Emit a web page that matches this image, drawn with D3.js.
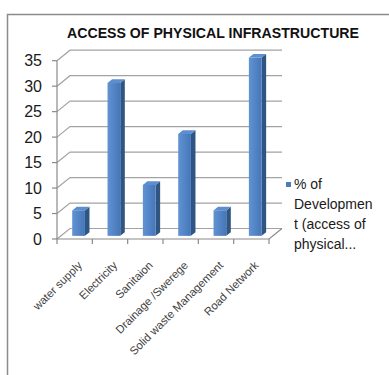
<!DOCTYPE html>
<html>
<head>
<meta charset="utf-8">
<script src="https://cdn.jsdelivr.net/npm/d3@7"></script>
<style>
  body { margin: 0; background: #fff; }
  svg { display: block; }
</style>
</head>
<body>
<script>
const categories = ['water supply', 'Electricity', 'Sanitaion', 'Drainage /Swerege', 'Solid waste Management', 'Road Network'];
const values = [5, 30, 10, 20, 5, 35];
const yTicks = [0, 5, 10, 15, 20, 25, 30, 35];
const legendLines = ['% of', 'Developmen', 't (access of', 'physical...'];

const width = 389, height = 375;
const depth = { dx: 13, dy: -10.5 }; // 3d floor offset
const f0 = 0.3, f1 = 0.65;           // bar front / back depth fraction

const svg = d3.select('body').append('svg')
    .attr('width', width)
    .attr('height', height);

// outer frame (runs off the right and bottom edge)
svg.append('rect')
    .attr('x', 7.5).attr('y', 14.5)
    .attr('width', 420).attr('height', 420)
    .attr('fill', 'none')
    .attr('stroke', '#8c8c8c')
    .attr('stroke-width', 1.5);

svg.append('text')
    .attr('x', 67).attr('y', 37.5)
    .attr('textLength', 292)
    .attr('lengthAdjust', 'spacingAndGlyphs')
    .style('font-family', 'Liberation Sans, Arial, sans-serif')
    .style('font-size', '15.5px')
    .style('font-weight', 'bold')
    .style('fill', '#111')
    .text('ACCESS OF PHYSICAL INFRASTRUCTURE');

const x = d3.scaleBand().domain(categories).range([57, 269]);
const y = d3.scaleLinear().domain([0, 35]).range([239, 60.7]);

// gridlines on side + back wall
const grid = svg.append('g').attr('fill', 'none').attr('stroke', '#a3a3a3').attr('stroke-width', 1.2);
yTicks.forEach(t => {
  const yy = y(t);
  grid.append('polyline')
      .attr('points', `57,${yy} ${57 + depth.dx},${yy + depth.dy} ${269 + depth.dx},${yy + depth.dy}`);
});

// floor front + right edge
const axisG = svg.append('g').attr('fill', 'none').attr('stroke', '#8a8a8a').attr('stroke-width', 1.2);
axisG.append('polyline')
    .attr('points', `57,${y(0)} 269,${y(0)} ${269 + depth.dx},${y(0) + depth.dy}`);
axisG.append('line')
    .attr('x1', 57).attr('x2', 57).attr('y1', y(0)).attr('y2', y(35));

// y ticks
yTicks.forEach(t => {
  axisG.append('line').attr('x1', 52).attr('x2', 57).attr('y1', y(t)).attr('y2', y(t));
});
// x ticks at band edges
const edges = categories.map(c => x(c)).concat([x.range()[1]]);
edges.forEach(e => {
  axisG.append('line').attr('x1', e).attr('x2', e).attr('y1', y(0)).attr('y2', y(0) + 5);
});

svg.append('g').selectAll('text')
    .data(yTicks)
    .enter().append('text')
    .attr('x', 42)
    .attr('y', d => y(d))
    .attr('dy', '0.36em')
    .attr('text-anchor', 'end')
    .style('font-family', 'Liberation Sans, Arial, sans-serif')
    .style('font-size', '16px')
    .style('fill', '#1a1a1a')
    .text(d => d);

// bars
const defs = svg.append('defs');
const grad = defs.append('linearGradient').attr('id', 'front').attr('x1', 0).attr('x2', 1).attr('y1', 0).attr('y2', 0);
grad.append('stop').attr('offset', 0).attr('stop-color', '#6192d2');
grad.append('stop').attr('offset', 1).attr('stop-color', '#4576b8');

const barW = x.bandwidth() * 0.36;
const bars = svg.append('g').selectAll('g')
    .data(categories.map((c, i) => ({ c, v: values[i] })))
    .enter().append('g');

const ox = f0 * depth.dx, oy = f0 * depth.dy;
const ddx = (f1 - f0) * depth.dx, ddy = (f1 - f0) * depth.dy;

bars.each(function(d) {
  const g = d3.select(this);
  const x0 = x(d.c) + x.bandwidth() / 2 - barW / 2 + ox;
  const x1 = x0 + barW;
  const yb = y(0) + oy;
  const yt = y(d.v) + oy;
  g.append('polygon')
      .attr('points', `${x1},${yt} ${x1 + ddx},${yt + ddy} ${x1 + ddx},${yb + ddy} ${x1},${yb}`)
      .attr('fill', '#2f5683');
  g.append('polygon')
      .attr('points', `${x0},${yt} ${x1},${yt} ${x1 + ddx},${yt + ddy} ${x0 + ddx},${yt + ddy}`)
      .attr('fill', '#5c8ed0');
  g.append('rect')
      .attr('x', x0).attr('y', yt)
      .attr('width', barW).attr('height', yb - yt)
      .attr('fill', 'url(#front)');
});

// category labels
svg.append('g').selectAll('text')
    .data(categories)
    .enter().append('text')
    .attr('transform', d => `translate(${x(d) + x.bandwidth() / 2 + 8},${y(0) + 27}) rotate(-45)`)
    .attr('text-anchor', 'end')
    .style('font-family', 'Liberation Sans, Arial, sans-serif')
    .style('font-size', '11.3px')
    .style('fill', '#404040')
    .text(d => d);

// legend
svg.append('rect')
    .attr('x', 286).attr('y', 182)
    .attr('width', 5).attr('height', 5)
    .attr('fill', '#4a7ebb');

svg.append('g').selectAll('text')
    .data(legendLines)
    .enter().append('text')
    .attr('x', 294)
    .attr('y', (d, i) => 189 + i * 20)
    .style('font-family', 'Liberation Sans, Arial, sans-serif')
    .style('font-size', '14px')
    .style('fill', '#1a1a1a')
    .text(d => d);
</script>
</body>
</html>
